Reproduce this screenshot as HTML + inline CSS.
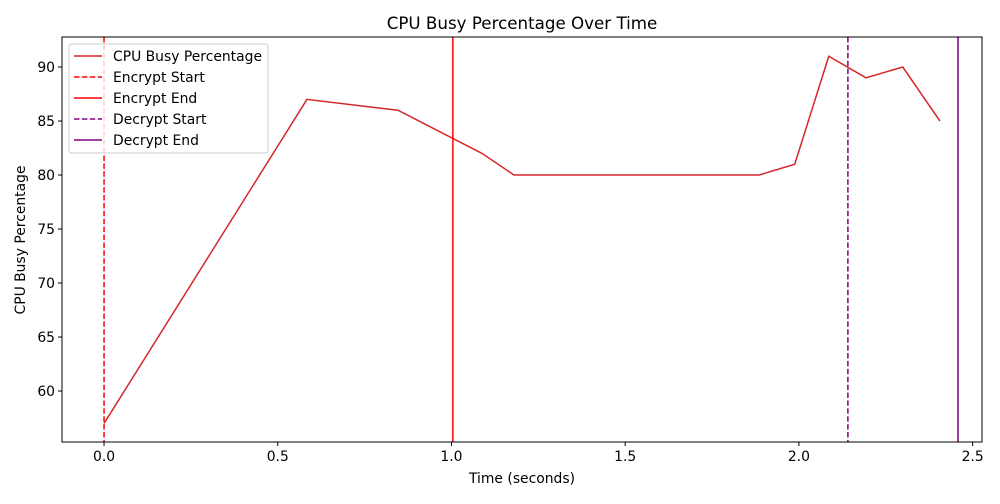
<!DOCTYPE html>
<html><head><meta charset="utf-8"><style>
body{margin:0;background:#fff;font-family:"DejaVu Sans","Liberation Sans",sans-serif;}
svg text{font-family:"DejaVu Sans","Liberation Sans",sans-serif;}
</style></head><body>
<svg id="chart" width="1000" height="500" xmlns="http://www.w3.org/2000/svg">
<rect width="1000" height="500" fill="#fff"/>
<text x="522" y="29" font-size="16.7" text-anchor="middle">CPU Busy Percentage Over Time</text>
<text x="522" y="483" font-size="13.9" text-anchor="middle">Time (seconds)</text>
<text transform="translate(25,240) rotate(-90)" font-size="13.9" text-anchor="middle">CPU Busy Percentage</text>
<g id="plot"></g>
<rect x="62" y="37" width="920" height="405" fill="none" stroke="#000" stroke-width="1"/>
<g>
<rect x="69" y="44" width="199" height="109" fill="#fff" fill-opacity="0.8" stroke="#ccc" rx="3"/>
<g><line x1="74" y1="56" x2="102" y2="56" stroke="#d62728" stroke-width="1.5"/><text x="113" y="61" font-size="13.9">CPU Busy Percentage</text></g>
<g><line x1="74" y1="77" x2="102" y2="77" stroke="red" stroke-width="1.5" stroke-dasharray="5.5,2.4"/><text x="113" y="82" font-size="13.9">Encrypt Start</text></g>
<g><line x1="74" y1="98" x2="102" y2="98" stroke="red" stroke-width="1.5"/><text x="113" y="103" font-size="13.9">Encrypt End</text></g>
<g><line x1="74" y1="119" x2="102" y2="119" stroke="purple" stroke-width="1.5" stroke-dasharray="5.5,2.4"/><text x="113" y="124" font-size="13.9">Decrypt Start</text></g>
<g><line x1="74" y1="140" x2="102" y2="140" stroke="purple" stroke-width="1.5"/><text x="113" y="145" font-size="13.9">Decrypt End</text></g>
</g>
</svg>
<script>
const times = [0, 0.584, 0.846, 1.088, 1.18, 1.885, 1.988, 2.086, 2.193, 2.299, 2.406];
const cpuValues = [57, 87, 86, 82, 80, 80, 81, 91, 89, 90, 85];
const xTicks = [0, 0.5, 1.0, 1.5, 2.0, 2.5];
const xTickLabels = ["0.0", "0.5", "1.0", "1.5", "2.0", "2.5"];
const yTicks = [60, 65, 70, 75, 80, 85, 90];
const markerTimes = [0, 1.004, 2.141, 2.458];
const markerNames = ["encrypt-start", "encrypt-end", "decrypt-start", "decrypt-end"];
const markerColors = ["red", "red", "purple", "purple"];
const markerDashed = [true, false, true, false];

const X0 = 62, X1 = 982, Y0 = 442, Y1 = 37;
const xMin = -0.121, xMax = 2.527, yMin = 55.28, yMax = 92.78;
const xs = v => X0 + (v - xMin) / (xMax - xMin) * (X1 - X0);
const ys = v => Y0 - (v - yMin) / (yMax - yMin) * (Y0 - Y1);
const NS = "http://www.w3.org/2000/svg";
const plot = document.getElementById('plot');
function mk(tag, attrs, parent) {
  const e = document.createElementNS(NS, tag);
  for (const k in attrs) e.setAttribute(k, attrs[k]);
  (parent || plot).appendChild(e);
  return e;
}
xTicks.forEach((t, i) => {
  const g = mk('g', {});
  
  
  mk('line', {x1: xs(t), x2: xs(t), y1: Y0, y2: Y0 + 4, stroke: '#000'}, g);
  const tx = mk('text', {x: xs(t), y: Y0 + 19, 'font-size': 13.9, 'text-anchor': 'middle'}, g);
  tx.textContent = xTickLabels[i];
});
yTicks.forEach(t => {
  const g = mk('g', {});
  
  
  mk('line', {x1: X0 - 4, x2: X0, y1: ys(t), y2: ys(t), stroke: '#000'}, g);
  const tx = mk('text', {x: X0 - 7, y: ys(t) + 5, 'font-size': 13.9, 'text-anchor': 'end'}, g);
  tx.textContent = String(t);
});
const pts = times.map((t, i) => xs(t) + ',' + ys(cpuValues[i])).join(' ');
const line = mk('polyline', {points: pts, fill: 'none', stroke: '#d62728', 'stroke-width': 1.5});


markerTimes.forEach((t, i) => {
  const l = mk('line', {x1: xs(t), x2: xs(t), y1: Y1, y2: Y0, stroke: markerColors[i], 'stroke-width': 1.5});
  if (markerDashed[i]) l.setAttribute('stroke-dasharray', '5.5,2.4');
  
  
});
</script>
</body></html>
